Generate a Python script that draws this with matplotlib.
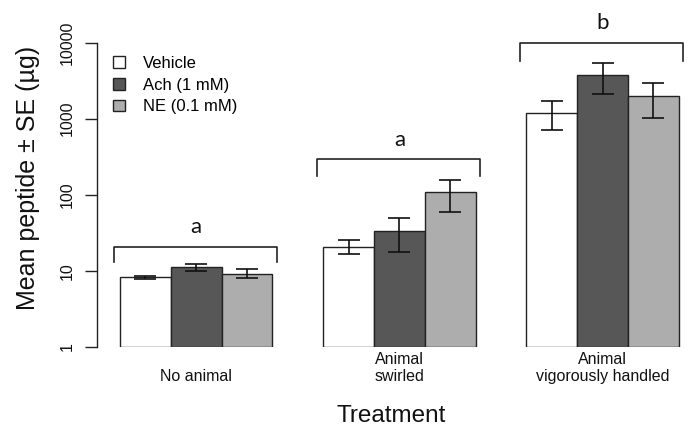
import numpy as np
import matplotlib
matplotlib.use("Agg")
import matplotlib.pyplot as plt
from matplotlib.patches import Patch

# ---- data ----
groups = ["\nNo animal", "Animal\nswirled", "Animal\nvigorously handled"]
series = ["Vehicle", "Ach (1 mM)", "NE (0.1 mM)"]
vehicle = [8.2, 20.5, 1200]
ach = [11.1, 33.3, 3760]
ne = [9.1, 107, 1970]
vehicle_lo = [7.8, 16.4, 710]
vehicle_hi = [8.5, 25.1, 1690]
ach_lo = [9.8, 17.5, 2110]
ach_hi = [12.4, 49.3, 5460]
ne_lo = [8.1, 59.7, 1010]
ne_hi = [10.4, 157, 2920]
letters = ["a", "a", "b"]
yticks = [1, 10, 100, 1000, 10000]

colors = ["white", "#575757", "#adadad"]

plt.rcParams['font.family'] = ['Liberation Sans', 'DejaVu Sans']

fig = plt.figure(figsize=(6.91, 4.28), dpi=100)
ax = fig.add_axes([97/691, (428-346.7)/428, (685-97)/691, (346.7-10)/428])

vals = [vehicle, ach, ne]
los = [vehicle_lo, ach_lo, ne_lo]
his = [vehicle_hi, ach_hi, ne_hi]
ng = len(groups)
for s in range(3):
    x = np.arange(ng) * 4 + s
    v = np.array(vals[s])
    ax.bar(x, v - 1, width=1, align='edge', bottom=1, color=colors[s],
           edgecolor='#222222', linewidth=1.0, zorder=2, label=series[s])
    lo = np.array(los[s]); hi = np.array(his[s])
    ax.errorbar(x + 0.5, v, yerr=[v - lo, hi - v], fmt='none', ecolor='#111111',
                elinewidth=1.2, capsize=7.8, capthick=1.2, zorder=3)

ax.set_yscale('log')
ax.set_ylim(1, 10 ** 4.43)
ax.set_xlim(-0.453, 11.12)

# brackets and letters (annotation layout)
bracket_layout = [(20.7, 13.0, 37.5), (292, 176, 525), (9820, 5727, 18000)]
for g in range(ng):
    ytop, ybot, ylet = bracket_layout[g]
    x0 = g * 4 - 0.12
    x1 = g * 4 + 3 + 0.09
    ax.plot([x0, x0, x1, x1], [ybot, ytop, ytop, ybot], color='#222222', lw=1.2,
            clip_on=False, solid_joinstyle='round')
    ax.text(g * 4 + 1.5, ylet, letters[g], ha='center', va='center',
            fontsize=16, family=['Lato', 'DejaVu Sans'], color='#111111')

# axes styling
for sp in ['top', 'right', 'bottom']:
    ax.spines[sp].set_visible(False)
ax.spines['left'].set_bounds(1, 10000)
ax.spines['left'].set_linewidth(1.0)
ax.spines['left'].set_color('#222222')
ax.set_yticks(yticks)
ax.set_yticklabels([str(t) for t in yticks], rotation=90, va='center', fontsize=11.5)
ax.yaxis.set_minor_locator(matplotlib.ticker.NullLocator())
ax.tick_params(axis='y', length=9, width=1.0, color='#222222', pad=7, labelcolor='#111111')

ax.set_xticks(np.arange(ng) * 4 + 1.5)
ax.set_xticklabels(groups, fontsize=11.5, linespacing=1.15, color='#111111')
ax.tick_params(axis='x', length=0, pad=4)

ax.set_xlabel("Treatment", fontsize=17.5, labelpad=15, color='#111111')
ax.set_ylabel("Mean peptide ± SE (µg)", fontsize=18, labelpad=14, color='#111111')

handles = [Patch(facecolor=colors[i], edgecolor='#222222', linewidth=1.0, label=series[i]) for i in range(3)]
leg = ax.legend(handles=handles, loc='upper left', bbox_to_anchor=(113/691, 1 - 56/428),
                bbox_transform=fig.transFigure, frameon=False, fontsize=12,
                handlelength=0.7, handleheight=0.7, handletextpad=1.1,
                labelspacing=0.4, borderaxespad=0, borderpad=0)

fig.savefig("out.png", dpi=100)
